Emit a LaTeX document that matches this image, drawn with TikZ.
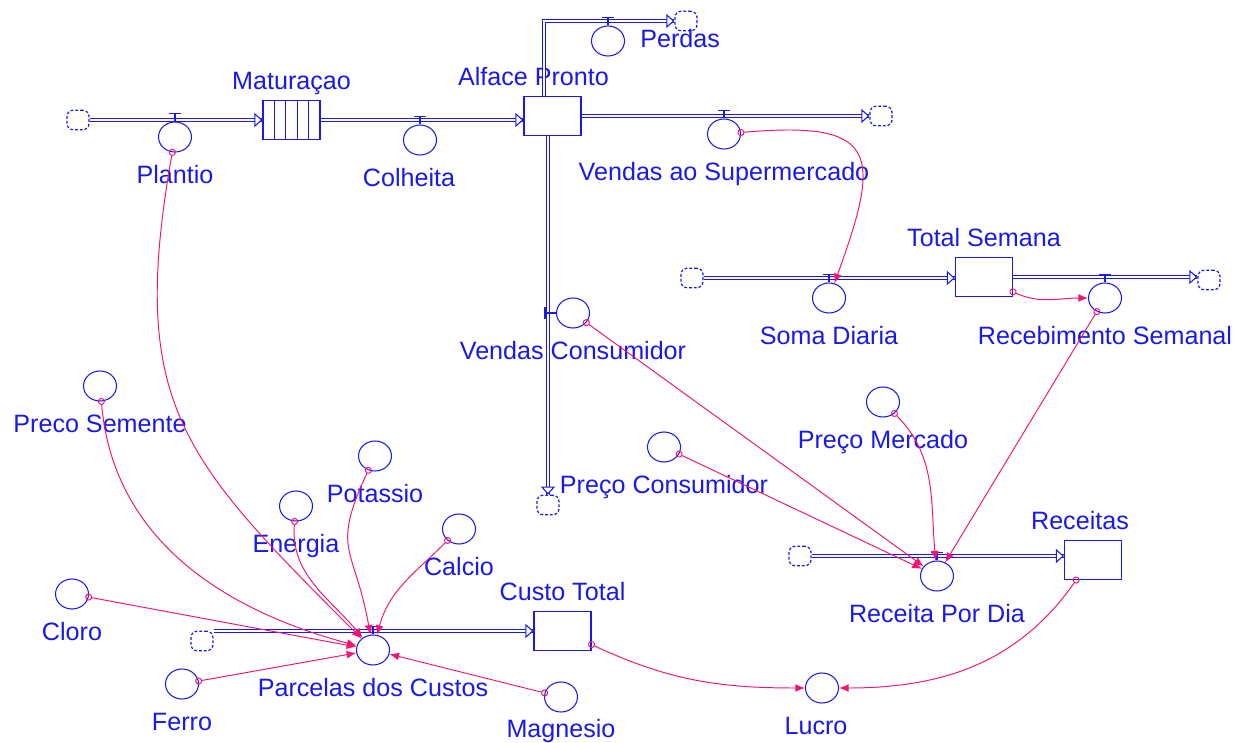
\documentclass[tikz,border=0pt]{standalone}
\usepackage{fontspec}
\setmainfont{Liberation Sans}
\usetikzlibrary{arrows.meta,shapes.geometric}

\definecolor{sfblue}{RGB}{25,25,235}
\definecolor{sflink}{RGB}{245,20,115}

\tikzset{
  lbl/.style={text=sfblue, font=\fontsize{14.3}{17}\selectfont, inner sep=0pt, text height=0.72em, text depth=0.2em},
  lblbelow/.style={lbl, yshift=-0.35cm},
  lblabove/.style={lbl, yshift=0.14cm},
  aux/.style={ellipse, draw=sfblue, line width=0.6pt, minimum width=0.66cm, minimum height=0.6cm, inner sep=0pt},
  stock/.style={rectangle, draw=sfblue, line width=0.6pt, minimum width=1.14cm, minimum height=0.78cm, inner sep=0pt},
  sourcecloud/.style={rectangle, rounded corners=3.5pt, draw=sfblue, line width=0.7pt, dash pattern=on 1.6pt off 1.1pt, minimum width=0.44cm, minimum height=0.39cm, inner sep=0pt},
  pipe/.style={draw=sfblue, line width=0.7pt, double=white, double distance=1.1pt},
  pipehead/.style={draw=sfblue, line width=0.6pt, -{Triangle[fill=white,length=4.6pt,width=8pt]}},
  valvebar/.style={draw=sfblue, line width=0.6pt},
  link/.style={draw=sflink, line width=0.55pt, {Circle[open,length=4pt]}-{Latex[length=5.5pt,width=4.5pt]}, shorten <=-2pt}
}

\begin{document}
\begin{tikzpicture}[x=0.02cm, y=0.02cm]
\useasboundingbox (0,0) rectangle (1245,-743);
% clouds
\node[sourcecloud] (cPlantio) at (78,-120) {};
\node[sourcecloud] (cPerdas) at (686,-21) {};
\node[sourcecloud] (cSuper) at (881,-116) {};
\node[sourcecloud] (cSoma) at (692,-278) {};
\node[sourcecloud] (cReceb) at (1209,-280) {};
\node[sourcecloud] (cConsum) at (548,-505) {};
\node[sourcecloud] (cReceita) at (800,-556) {};
\node[sourcecloud] (cCusto) at (202,-641) {};
% stocks
\node[stock, label={[lblabove]above:Maturaçao}] (matur) at (291.5,-120) {};
\foreach \i in {1,...,4}
  \draw[valvebar] (263+11.4*\i,-100.5) -- (263+11.4*\i,-139.5);
\node[stock, label={[lblabove,xshift=-0.38cm]above:Alface Pronto}] (alface) at (552.5,-116) {};
\node[stock, label={[lblabove]above:Total Semana}] (total) at (984,-277) {};
\node[stock, label={[lblabove,xshift=-0.26cm]above:Receitas}] (receitas) at (1093,-560) {};
\node[stock, label={[lblabove]above:Custo Total}] (custo) at (562.5,-631) {};
% flows
\coordinate (maturIn) at (cPlantio -| matur.west);
\draw[pipe] (cPlantio) -- (maturIn);
\draw[pipehead] ([xshift=-2pt]maturIn) -- (maturIn);
\coordinate (alfaceIn) at (matur.east -| alface.west);
\draw[pipe] (matur.east) -- (alfaceIn);
\draw[pipehead] ([xshift=-2pt]alfaceIn) -- (alfaceIn);
\coordinate (superIn) at (alface.east -| cSuper.west);
\draw[pipe] (alface.east) -- (superIn);
\draw[pipehead] ([xshift=-2pt]superIn) -- (superIn);
\coordinate (perdasOut) at ([xshift=-0.17cm]alface.north);
\draw[pipe] (perdasOut) |- (cPerdas.west);
\draw[pipehead] ([xshift=-2pt]cPerdas.west) -- (cPerdas.west);
\coordinate (consumOut) at ([xshift=-0.09cm]alface.south);
\coordinate (consumIn) at (consumOut |- cConsum.north);
\draw[pipe] (consumOut) -- (consumIn);
\draw[pipehead] ([yshift=2pt]consumIn) -- (consumIn);
\coordinate (totalIn) at (cSoma -| total.west);
\draw[pipe] (cSoma) -- (totalIn);
\draw[pipehead] ([xshift=-2pt]totalIn) -- (totalIn);
\coordinate (recebIn) at (total.east -| cReceb.west);
\draw[pipe] (total.east) -- (recebIn);
\draw[pipehead] ([xshift=-2pt]recebIn) -- (recebIn);
\coordinate (receitasIn) at (cReceita -| receitas.west);
\draw[pipe] (cReceita) -- (receitasIn);
\draw[pipehead] ([xshift=-2pt]receitasIn) -- (receitasIn);
\coordinate (custoOut) at (cCusto.east |- custo.west);
\draw[pipe] (custoOut) -- (custo.west);
\draw[pipehead] ([xshift=-2pt]custo.west) -- (custo.west);
% valves
\node[aux, label={[lblbelow]below:Plantio}] (plantio) at (175,-137) {};
\node[aux, label={[lblbelow,xshift=-0.22cm]below:Colheita}] (colheita) at (420,-140) {};
\node[aux, label={[lblbelow]below:Vendas ao Supermercado}] (vsuper) at (724,-134) {};
\node[aux, label={[lbl,xshift=0.3cm,yshift=-0.03cm]right:Perdas}] (perdas) at (608,-41) {};
\node[aux, label={[lblbelow]below:Vendas Consumidor}] (vconsum) at (573,-313) {};
\node[aux, label={[lblbelow]below:Soma Diaria}] (soma) at (829,-298) {};
\node[aux, label={[lblbelow]below:Recebimento Semanal}] (receb) at (1105,-298) {};
\node[aux, label={[lblbelow]below:Receita Por Dia}] (receita) at (937,-576) {};
\node[aux, label={[lblbelow]below:Parcelas dos Custos}] (parcelas) at (373,-650) {};
\foreach \v in {plantio,colheita,vsuper,perdas,soma,receb,receita,parcelas}
  \draw[valvebar] (\v.north) -- ++(0,8) ++(-6,0) -- ++(12,0);
\draw[valvebar] (vconsum.west) -- ++(-11,0) ++(0,-6) -- ++(0,12);
% auxiliaries
\node[aux, label={[lblbelow]below:Preco Semente}] (psemente) at (100,-386) {};
\node[aux, label={[lblbelow]below:Potassio}] (potassio) at (375,-456) {};
\node[aux, label={[lblbelow]below:Energia}] (energia) at (296,-506) {};
\node[aux, label={[lblbelow]below:Calcio}] (calcio) at (459,-529) {};
\node[aux, label={[lblbelow]below:Cloro}] (cloro) at (72,-594) {};
\node[aux, label={[lblbelow]below:Ferro}] (ferro) at (182,-684) {};
\node[aux, label={[lblbelow,yshift=0.12cm]below:Magnesio}] (magnesio) at (561,-697) {};
\node[aux, label={[lblbelow]below:Preço Consumidor}] (pconsum) at (664,-447) {};
\node[aux, label={[lblbelow]below:Preço Mercado}] (pmercado) at (883,-402) {};
\node[aux, label={[lblbelow,xshift=-0.12cm]below:Lucro}] (lucro) at (822,-688) {};
% links
\draw[link] (plantio) to[out=-100,in=135,looseness=1.25] (parcelas);
\draw[link] (psemente) to[out=-85,in=165] (parcelas);
\draw[link] (energia) to[out=-95,in=130] (parcelas);
\draw[link] (potassio) to[out=-115,in=100,looseness=1.4] (parcelas);
\draw[link] (calcio) to[out=-135,in=75] (parcelas);
\draw[link] (cloro) -- (parcelas);
\draw[link] (ferro) -- (parcelas);
\draw[link] (magnesio) -- (parcelas);
\draw[link] (vsuper) to[out=5,in=70,looseness=2] (soma);
\draw[link] (total.-27) to[out=-25,in=180] (receb);
\draw[link] (receb) -- (receita);
\draw[link] (vconsum) -- (receita);
\draw[link] (pconsum) -- (receita);
\draw[link] (pmercado) to[out=-45,in=95] (receita);
\draw[link] (custo.-25) to[out=-25,in=180] (lucro);
\draw[link] (receitas.-130) to[out=-125,in=0] (lucro);
\end{tikzpicture}
\end{document}
